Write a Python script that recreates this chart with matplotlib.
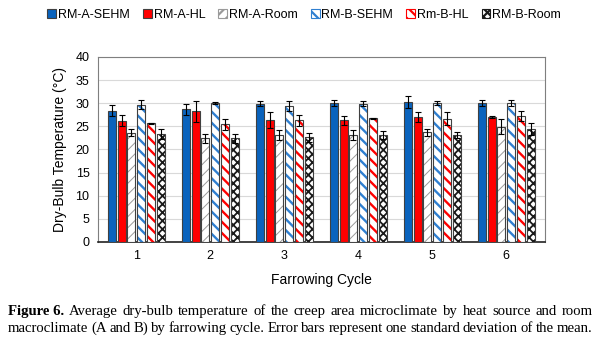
import numpy as np
import matplotlib
matplotlib.use('Agg')
import matplotlib.pyplot as plt
from matplotlib.patches import Patch

cycles = ['1', '2', '3', '4', '5', '6']
series = ['RM-A-SEHM', 'RM-A-HL', 'RM-A-Room', 'RM-B-SEHM', 'Rm-B-HL', 'RM-B-Room']

a_sehm = [28.4, 28.7, 29.9, 30.0, 30.3, 30.0]
a_hl = [26.2, 28.2, 26.3, 26.3, 27.0, 27.0]
a_room = [23.6, 22.4, 23.1, 23.2, 23.7, 24.9]
b_sehm = [29.7, 30.1, 29.4, 29.9, 30.0, 30.0]
b_hl = [25.6, 25.4, 26.3, 26.7, 26.6, 27.3]
b_room = [23.3, 22.4, 22.6, 23.1, 23.1, 24.5]

a_sehm_sd = [1.1, 1.2, 0.5, 0.6, 1.3, 0.7]
a_hl_sd = [1.2, 2.2, 1.7, 1.0, 1.0, 0.2]
a_room_sd = [0.8, 1.0, 1.0, 1.1, 0.8, 1.6]
b_sehm_sd = [0.9, 0.2, 1.0, 0.6, 0.4, 0.7]
b_hl_sd = [0.2, 1.1, 1.2, 0.1, 1.4, 1.1]
b_room_sd = [1.1, 1.0, 0.9, 0.8, 0.7, 1.3]

means = [a_sehm, a_hl, a_room, b_sehm, b_hl, b_room]
sds = [a_sehm_sd, a_hl_sd, a_room_sd, b_sehm_sd, b_hl_sd, b_room_sd]

caption1 = 'Average dry-bulb temperature of the creep area microclimate by heat source and room'
caption2 = 'macroclimate (A and B) by farrowing cycle. Error bars represent one standard deviation of the mean.'

blue = '#0a63bd'
red = '#ff0000'
# (face colour, hatch, hatch colour, hatch linewidth)
styles = [
    (blue, None, None, None),
    (red, None, None, None),
    ('white', '///', '#9a9a9a', 0.7),
    ('white', '\\\\\\', '#2f7fd0', 1.7),
    ('white', '\\\\\\', red, 1.7),
    ('white', 'xxxx', '#1a1a1a', 1.3),
]

plt.rcParams['font.family'] = ['Liberation Sans', 'DejaVu Sans']
plt.rcParams['hatch.linewidth'] = 1.6


def set_hlw(patches, lw):
    for p in patches:
        if hasattr(p, 'set_hatch_linewidth'):
            p.set_hatch_linewidth(lw)


fig = plt.figure(figsize=(6, 3.45), dpi=100)
ax = fig.add_axes([0.163, 0.299, 0.745, 0.536])

x = np.arange(len(cycles))
slot = 0.132
width = 0.108

for i, (vals, err) in enumerate(zip(means, sds)):
    face, hatch, hcol, hlw = styles[i]
    pos = x + (i - 2.5) * slot
    if hatch is None:
        ax.bar(pos, vals, width, color=face, edgecolor='#404040', linewidth=0.8, zorder=3)
    else:
        bars = ax.bar(pos, vals, width, color=face, edgecolor=hcol, hatch=hatch, linewidth=0, zorder=3)
        set_hlw(bars, hlw)
        ax.bar(pos, vals, width, fill=False, edgecolor='#404040', linewidth=0.8, zorder=4)
    ax.errorbar(pos, vals, yerr=err, fmt='none', ecolor='black', elinewidth=0.8,
                capsize=2.5, capthick=0.8, zorder=5)

ax.set_xlim(-0.52, 5.52)
ax.set_ylim(0, 40)
ax.set_yticks(range(0, 41, 5))
ax.set_xticks(x)
ax.set_xticklabels(cycles)
ax.tick_params(length=0, labelsize=9, pad=6)
ax.yaxis.grid(True, color='#d9d9d9', linewidth=0.8, zorder=0)
ax.set_axisbelow(True)
for s in ['top', 'right', 'left']:
    ax.spines[s].set_color('#7f7f7f')
ax.spines['bottom'].set_color('#222222')
ax.spines['bottom'].set_linewidth(1.2)

ax.set_ylabel('Dry-Bulb Temperature (°C)', fontsize=10, labelpad=6)
ax.set_xlabel('Farrowing Cycle', fontsize=10, labelpad=8)

handles = []
for i, name in enumerate(series):
    face, hatch, hcol, hlw = styles[i]
    if hatch is None:
        handles.append(Patch(facecolor=face, edgecolor='#404040', linewidth=0.8, label=name))
    else:
        h = Patch(facecolor=face, edgecolor=hcol, hatch=hatch, linewidth=0.8, label=name)
        set_hlw([h], hlw)
        handles.append(h)
fig.legend(handles=handles, loc='center', bbox_to_anchor=(0.507, 0.957), ncol=6, frameon=False,
           fontsize=9, handlelength=0.7, handleheight=0.7, handletextpad=0.15, columnspacing=1.05,
           borderaxespad=0)

# caption, justified between x0 and x1
cap_font = ['Liberation Serif', 'DejaVu Serif']
renderer = fig.canvas.get_renderer()
figw = fig.bbox.width


def justify(words, y, x0, x1, bold_first=False):
    texts = []
    for k, w in enumerate(words):
        bold = bold_first and k == 0
        t = fig.text(0, y, w, fontsize=10.6, family=cap_font, va='center',
                     fontweight='bold' if bold else 'normal')
        texts.append(t)
    widths = [t.get_window_extent(renderer).width / figw for t in texts]
    gap = (x1 - x0 - sum(widths)) / (len(words) - 1)
    xx = x0
    for t, w in zip(texts, widths):
        t.set_x(xx)
        xx += w + gap


justify(['Figure 6.'] + caption1.split(), 0.096, 0.013, 0.988, bold_first=True)
justify(caption2.split(), 0.049, 0.013, 0.988)

fig.savefig('out.png', dpi=100)
